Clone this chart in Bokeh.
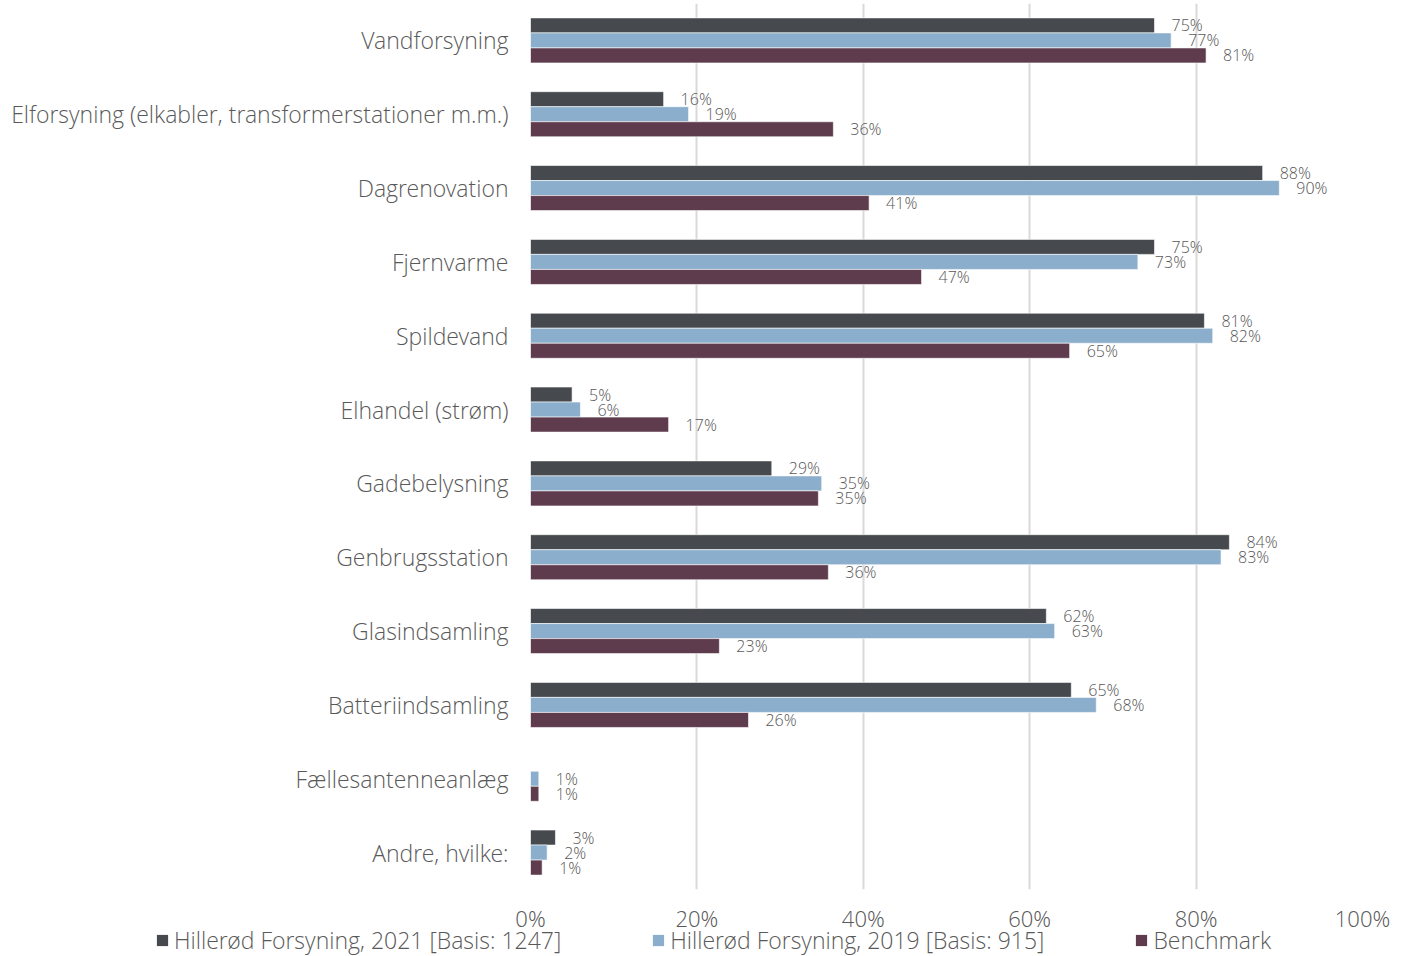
from bokeh.plotting import figure
from bokeh.models import ColumnDataSource, Range1d, FixedTicker, Legend, LegendItem
from bokeh.layouts import column
from bokeh.transform import dodge
from bokeh.core.properties import value
from bokeh.embed import file_html
from bokeh.resources import INLINE

categories = [
    "Vandforsyning",
    "Elforsyning (elkabler, transformerstationer m.m.)",
    "Dagrenovation",
    "Fjernvarme",
    "Spildevand",
    "Elhandel (strøm)",
    "Gadebelysning",
    "Genbrugsstation",
    "Glasindsamling",
    "Batteriindsamling",
    "Fællesantenneanlæg",
    "Andre, hvilke:",
]
hf2021 = [75, 16, 88, 75, 81, 5, 29, 84, 62, 65, None, 3]
hf2019 = [77, 19, 90, 73, 82, 6, 35, 83, 63, 68, 1, 2]
benchmark = [81.2, 36.4, 40.7, 47.0, 64.8, 16.6, 34.6, 35.8, 22.7, 26.2, 1.0, 1.4]
series_names = ["Hillerød Forsyning, 2021 [Basis: 1247]",
                "Hillerød Forsyning, 2019 [Basis: 915]",
                "Benchmark"]
colors = ["#46494D", "#8AAECB", "#5E3B4D"]
x_ticks = [0, 20, 40, 60, 80, 100]

FONT = "Open Sans Light, Open Sans"
GREY = "#595959"

p = figure(width=1400, height=935, output_backend="svg", toolbar_location=None,
           x_range=Range1d(0, 100), y_range=Range1d(11.5, -0.5),
           min_border_left=530, min_border_right=38, min_border_top=3, min_border_bottom=40)
p.frame_align = False
p.outline_line_color = None
p.background_fill_color = "white"
p.border_fill_color = "white"

bar_h = 0.2035
offsets = [-bar_h, 0.0, bar_h]
for vals, col, off in zip([hf2021, hf2019, benchmark], colors, offsets):
    ys = [i for i, v in enumerate(vals) if v is not None]
    xs = [v for v in vals if v is not None]
    src = ColumnDataSource(dict(y=ys, x=xs, lab=[f"{round(v)}%" for v in xs]))
    p.hbar(y=dodge("y", off), right="x", left=0, height=bar_h, source=src,
           fill_color=col, line_color="white", line_width=0.6)
    p.text(x="x", y=dodge("y", off), text="lab", source=src, x_offset=17,
           text_align="left", text_baseline="middle", text_font=value(FONT),
           text_font_size="16px", text_color=GREY)

p.xgrid.ticker = FixedTicker(ticks=x_ticks)
p.xgrid.grid_line_color = "#D9D9D9"
p.xgrid.grid_line_width = 2
p.ygrid.grid_line_color = None

p.xaxis.ticker = FixedTicker(ticks=x_ticks)
p.xaxis.major_label_overrides = {t: f"{t}%" for t in x_ticks}
p.xaxis.axis_line_color = None
p.xaxis.major_tick_line_color = None
p.xaxis.minor_tick_line_color = None
p.xaxis.major_label_standoff = 7
p.xaxis.major_label_text_font = FONT
p.xaxis.major_label_text_font_size = "22px"
p.xaxis.major_label_text_color = GREY

p.yaxis.ticker = FixedTicker(ticks=list(range(len(categories))))
p.yaxis.major_label_overrides = {i: c for i, c in enumerate(categories)}
p.yaxis.axis_line_color = None
p.yaxis.major_tick_line_color = None
p.yaxis.minor_tick_line_color = None
p.yaxis.major_label_standoff = 16
p.yaxis.major_label_text_font = FONT
p.yaxis.major_label_text_font_size = "23px"
p.yaxis.major_label_text_color = GREY

# legend strip below the chart (pulled up slightly, transparent background)
nan = float("nan")
leg = figure(width=1400, height=30, output_backend="svg", toolbar_location=None,
             x_range=Range1d(0, 1), y_range=Range1d(0, 1),
             x_axis_location=None, y_axis_location=None,
             min_border_left=0, min_border_right=0, min_border_top=0, min_border_bottom=0,
             margin=(-9, 0, 0, 0))
leg.frame_align = False
leg.outline_line_color = None
leg.grid.visible = False
leg.background_fill_alpha = 0
leg.border_fill_alpha = 0
items = []
for name, col in zip(series_names, colors):
    r = leg.hbar(y=[nan], right=[nan], left=[nan], height=1, fill_color=col, line_color=None)
    items.append(LegendItem(label=name, renderers=[r]))
legend = Legend(items=items, orientation="horizontal", location=(155, 0),
                padding=0, margin=0, spacing=90, label_standoff=5,
                glyph_width=14, glyph_height=14, label_height=20,
                label_text_font=FONT, label_text_font_size="23px",
                label_text_color=GREY, border_line_color=None,
                background_fill_alpha=0)
leg.add_layout(legend, "center")

layout = column(p, leg, spacing=0)
open("out.html", "w").write(file_html(layout, INLINE))
